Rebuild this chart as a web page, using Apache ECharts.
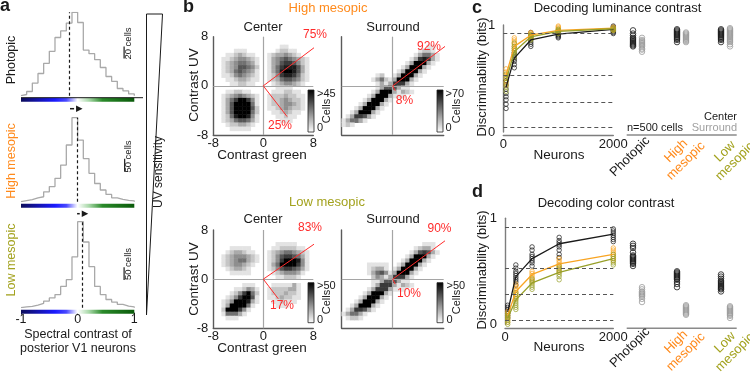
<!DOCTYPE html>
<html>
<head>
<meta charset="utf-8">
<title>Spectral contrast in V1</title>
<script src="https://cdn.jsdelivr.net/npm/echarts@6.0.0/dist/echarts.min.js"></script>
<style>
  html, body { margin: 0; padding: 0; background: #fff; }
  #chart { width: 750px; height: 373px; }
</style>
</head>
<body>
<div id="chart"></div>
<script>
// ---- a: spectral contrast histograms, 20 bins of 0.1 from -1 to 1 (cells)
const histPhotopic    = [2, 7, 21, 37, 54, 74, 97, 108, 121, 139, 122, 76, 70, 60, 47, 32, 24, 12, 8, 3];
const histHighMesopic = [4, 8, 15, 19, 38, 58, 90, 141, 218, 323, 237, 166, 109, 70, 45, 28, 15, 9, 5, 3];
const histLowMesopic  = [3, 5, 10, 17, 26, 38, 51, 83, 109, 198, 335, 256, 160, 83, 51, 32, 22, 13, 6, 3];
const histMedians = [-0.135, -0.01, 0.09];

// ---- b: 2D histograms, 24x24 bins over [-8, 8], grey level 0-9, top row first
const ctrHigh = [
  '', '',
  '000000000000000011',
  '000001110000000122110000',
  '000112321100012334321000',
  '001123443210013456543210',
  '001234554310013467764210',
  '001234665420013578886310',
  '001235654310013589986310',
  '001124543210012478875210',
  '000112332110012356654210',
  '000011221100001234432100',
  '000000000000000111100000',
  '000112211000001112211000',
  '001234543210012223221100',
  '001357997410012234322100',
  '001369999510012234432100',
  '001369999620011234322100',
  '001369999520001123211000',
  '001258998410000112110000',
  '001235665310000011100000',
  '000122332100',
  '000011111000',
  ''
];
const surHigh = [
  '', '',
  '0000000000000000000011',
  '0000000000000000001221',
  '00000000000000000135531',
  '00000000000000001378731',
  '0000000000000001399931',
  '000000000000001399931',
  '00000000000001399931',
  '0000000012001399931',
  '000000013521399931',
  '00000000131377731',
  '0000000013666311',
  '00000001399931321',
  '000000139993111',
  '000001399931',
  '00001399931',
  '0001399931',
  '001399931',
  '01377631',
  '135531',
  '121',
  '', ''
];
const ctrLow = [
  '', '', '',
  '000000000000000111110000',
  '000011111000001122221100',
  '000123321100012345543210',
  '001234443210012467765310',
  '001234553210012479998410',
  '001234432100013599997410',
  '000123321000012467765310',
  '000011111000001234443100',
  '000000000000000112221000',
  '',
  '000000011100001111131000',
  '000001124310012222331000',
  '000012479520012223221000',
  '000124799610011232211000',
  '001249998310001121110000',
  '001399995100000111000000',
  '002999741000',
  '001555310000',
  '000111000000',
  '', ''
];
const surLow = [
  '', '', '',
  '0000000000000000000111',
  '0000000000000000012331',
  '00000000000000001367631',
  '0000000000000001399931',
  '000000000000001399931',
  '00000011111001399931',
  '0000001233101399931',
  '000000135641399931',
  '00000002431377731',
  '0000000113666311',
  '00000001377731321',
  '000000137773111',
  '000001399931',
  '00001399931',
  '0001399931',
  '001399931',
  '01377631',
  '135531',
  '01221',
  '', ''
];
// end points of the red split lines (contrast units), upper then lower
const splitCtrHigh = [[10.2, 7.8], [3.8, -5.0]];
const splitSurHigh = [[10.1, 7.9], [0.4, -0.8]];
const splitCtrLow  = [[10.7, 7.5], [2.4, -3.2]];
const splitSurLow  = [[9.2, 7.0], [0.4, -0.8]];

// ---- c, d: decoding discriminability (bits)
const neurons = [50, 200, 500, 1000, 2000];
const dashLevels = [0.92, 0.53, 0.28, 0.04];
const conditions = ['Photopic', 'High mesopic', 'Low mesopic'];

const lumPhotopic = [0.42, 0.69, 0.86, 0.915, 0.96];
const lumHigh     = [0.53, 0.80, 0.905, 0.95, 0.97];
const lumLow      = [0.48, 0.75, 0.89, 0.94, 0.965];
const lumPhotopicPts = [
  [0.22, 0.26, 0.30, 0.33, 0.36, 0.40, 0.44, 0.48],
  [0.60, 0.63, 0.66, 0.68, 0.70, 0.72, 0.74],
  [0.80, 0.82, 0.84, 0.86, 0.88, 0.90, 0.93],
  [0.88, 0.89, 0.90, 0.91, 0.92, 0.93, 0.94],
  [0.92, 0.93, 0.94, 0.95, 0.96, 0.97, 0.98, 0.99]
];
const lumHighPts = [
  [0.44, 0.47, 0.50, 0.53, 0.56, 0.59],
  [0.76, 0.78, 0.80, 0.82, 0.84, 0.86, 0.88],
  [0.88, 0.89, 0.90, 0.91, 0.92, 0.93],
  [0.93, 0.94, 0.95, 0.96, 0.97, 0.98, 0.99],
  [0.95, 0.96, 0.97, 0.98]
];
const lumLowPts = [
  [0.38, 0.42, 0.46, 0.50, 0.54],
  [0.70, 0.72, 0.74, 0.76, 0.78, 0.80, 0.83],
  [0.86, 0.87, 0.88, 0.89, 0.90, 0.91],
  [0.92, 0.93, 0.94, 0.95, 0.96],
  [0.95, 0.96, 0.97]
];
const lumCenter = [
  [0.80, 0.81, 0.82, 0.83, 0.84, 0.85, 0.86, 0.87, 0.88, 0.90, 0.92, 0.95],
  [0.84, 0.86, 0.87, 0.88, 0.89, 0.90, 0.91, 0.92, 0.93, 0.94, 0.95, 0.96],
  [0.84, 0.86, 0.87, 0.88, 0.89, 0.90, 0.91, 0.92, 0.93, 0.94, 0.95, 0.96]
];
const lumSurround = [
  [0.75, 0.77, 0.78, 0.80, 0.81, 0.82, 0.83, 0.84, 0.85, 0.86, 0.88],
  [0.84, 0.85, 0.86, 0.87, 0.88, 0.89, 0.90, 0.91, 0.92, 0.93],
  [0.80, 0.82, 0.84, 0.85, 0.86, 0.87, 0.88, 0.89, 0.90, 0.91, 0.92, 0.93, 0.94, 0.95, 0.96, 0.97]
];

const colPhotopic = [0.12, 0.45, 0.62, 0.76, 0.85];
const colHigh     = [0.08, 0.31, 0.47, 0.57, 0.66];
const colLow      = [0.06, 0.23, 0.39, 0.49, 0.62];
const colPhotopicPts = [
  [0.06, 0.08, 0.10, 0.12, 0.14, 0.16, 0.18],
  [0.37, 0.40, 0.42, 0.44, 0.46, 0.48, 0.50, 0.53, 0.56],
  [0.55, 0.58, 0.60, 0.62, 0.64, 0.66, 0.70, 0.73],
  [0.63, 0.66, 0.70, 0.73, 0.75, 0.77, 0.79, 0.82],
  [0.78, 0.80, 0.82, 0.84, 0.86, 0.88, 0.90]
];
const colHighPts = [
  [0.02, 0.04, 0.06, 0.08, 0.10, 0.12],
  [0.24, 0.26, 0.28, 0.30, 0.32, 0.34, 0.36, 0.38],
  [0.40, 0.42, 0.44, 0.46, 0.48, 0.50],
  [0.50, 0.52, 0.54, 0.56, 0.58, 0.60, 0.62],
  [0.60, 0.62, 0.64, 0.66, 0.68, 0.70, 0.72]
];
const colLowPts = [
  [0.00, 0.02, 0.04, 0.06, 0.08, 0.10],
  [0.14, 0.16, 0.18, 0.20, 0.22, 0.24, 0.26, 0.28, 0.30],
  [0.33, 0.35, 0.37, 0.39, 0.41, 0.43],
  [0.42, 0.45, 0.47, 0.49, 0.51, 0.53, 0.55],
  [0.56, 0.58, 0.60, 0.62, 0.64, 0.66]
];
const colCenter = [
  [0.55, 0.57, 0.58, 0.59, 0.60, 0.61, 0.62, 0.63, 0.64, 0.65, 0.68, 0.72, 0.74, 0.76],
  [0.35, 0.38, 0.40, 0.42, 0.43, 0.44, 0.45, 0.46, 0.47, 0.48, 0.49, 0.50],
  [0.31, 0.33, 0.34, 0.35, 0.36, 0.37, 0.38, 0.39, 0.40, 0.41, 0.43, 0.45, 0.47]
];
const colSurround = [
  [0.21, 0.24, 0.26, 0.27, 0.28, 0.29, 0.30, 0.31, 0.33, 0.35],
  [0.09, 0.10, 0.11, 0.12, 0.13, 0.14, 0.15, 0.16, 0.17, 0.18],
  [0.06, 0.08, 0.09, 0.10, 0.11, 0.12, 0.13, 0.14, 0.15, 0.16, 0.17]
];

// ---- styling
const FONT = '"Liberation Sans", Arial, Helvetica, sans-serif';
const INK = '#1a1a1a';
const ORANGE_TXT = '#ff8a1c';
const OLIVE_TXT = '#a3a21e';
const ORANGE = '#f8a422';
const OLIVE = '#98a02a';
const GREY = '#9c9c9c';
const RED = '#ff2b2b';
const BINS = 24;

const chart = echarts.init(document.getElementById('chart'));

const grids = [
  { left: 21, top: 12.3, width: 113.3, height: 83.4 },     // a photopic
  { left: 21, top: 117.7, width: 113.3, height: 84 },      // a high mesopic
  { left: 21, top: 221.7, width: 113.3, height: 86 },      // a low mesopic
  { left: 213.3, top: 36.7, width: 100, height: 98.3 },    // b center high
  { left: 341.7, top: 36.7, width: 102, height: 98.3 },    // b surround high
  { left: 213.3, top: 230, width: 100, height: 98.3 },     // b center low
  { left: 341.7, top: 230, width: 102, height: 98.3 },     // b surround low
  { left: 503.3, top: 25, width: 110, height: 107 },       // c curves
  { left: 615.5, top: 25, width: 132, height: 107 },       // c summary
  { left: 505, top: 218.3, width: 108.3, height: 106 },    // d curves
  { left: 615.5, top: 218.3, width: 132, height: 106 }     // d summary
].map(g => Object.assign({ containLabel: false, outerBoundsMode: 'none' }, g));

const xAxes = [], yAxes = [], series = [];
const noLine = { show: false, onZero: false };
const greyLine = c => ({ show: true, onZero: false, lineStyle: { color: c, width: 1.4 } });
function lbl(show, margin, size) {
  return { show: show, margin: margin, fontSize: size || 13, color: INK, fontFamily: FONT,
    formatter: v => String(v) };
}
function valAxis(o) {
  return Object.assign({ type: 'value', splitLine: { show: false }, axisTick: { show: false },
    axisLine: noLine, axisLabel: { show: false } }, o);
}

// a axes + series
const hists = [histPhotopic, histHighMesopic, histLowMesopic];
const scaleBars = [{ x: 0.82, from: 62, cells: 20 }, { x: 0.83, from: 115, cells: 50 }, { x: 0.82, from: 108, cells: 50 }];
hists.forEach((h, k) => {
  xAxes.push(valAxis({ gridIndex: k, min: -1, max: 1, interval: 1, offset: 5,
    axisTick: { show: k === 2, length: 2, lineStyle: { color: INK } },
    axisLabel: lbl(k === 2, 0, 12.5) }));
  yAxes.push(valAxis({ gridIndex: k, min: 0, max: Math.max(...h) }));
  const pts = [[-1, 0]];
  h.forEach((c, b) => pts.push([-1 + b * 0.1, c]));
  pts.push([1, h[h.length - 1]], [1, 0]);
  series.push({ type: 'line', xAxisIndex: k, yAxisIndex: k, data: pts, step: 'end', symbol: 'none',
    lineStyle: { color: '#a9a9a9', width: 1.3 },
    markLine: { symbol: 'none', silent: true, label: { show: false },
      lineStyle: { color: INK, type: [3, 2.5], width: 1.2 }, data: [{ xAxis: histMedians[k] }] } });
  const sb = scaleBars[k];
  series.push({ type: 'line', xAxisIndex: k, yAxisIndex: k, symbol: 'none',
    data: [[sb.x, sb.from], [sb.x, sb.from + sb.cells]], lineStyle: { color: INK, width: 1.2 } });
});

// b axes + series
const binCats = Array.from({ length: BINS }, (_, i) => String(i));
const heats = [
  { rows: ctrHigh, split: splitCtrHigh }, { rows: surHigh, split: splitSurHigh },
  { rows: ctrLow, split: splitCtrLow }, { rows: surLow, split: splitSurLow }
];
const heatIdx = [];
heats.forEach((h, k) => {
  const g = 3 + k, labelled = k % 2 === 0;
  const cx = xAxes.push({ type: 'category', gridIndex: g, data: binCats, show: false, position: 'top' }) - 1;
  const vx = xAxes.push(valAxis({ gridIndex: g, min: -8, max: 8, interval: 8, position: 'bottom',
    axisLine: greyLine('#5a5a5a'), axisLabel: lbl(labelled, 2) })) - 1;
  const cy = yAxes.push({ type: 'category', gridIndex: g, data: binCats, show: false, position: 'right' }) - 1;
  const vy = yAxes.push(valAxis({ gridIndex: g, min: -8, max: 8, interval: 8, position: 'left',
    axisLine: greyLine('#5a5a5a'), axisLabel: lbl(labelled, 5) })) - 1;
  const cells = [];
  h.rows.forEach((row, r) => {
    for (let i = 0; i < row.length; i++) {
      const v = +row[i];
      if (v > 0) cells.push([i, BINS - 1 - r, v]);
    }
  });
  heatIdx.push(series.length);
  series.push({ type: 'heatmap', xAxisIndex: cx, yAxisIndex: cy, data: cells, itemStyle: { borderWidth: 0 } });
  series.push({ type: 'line', xAxisIndex: vx, yAxisIndex: vy, data: [[0, 0]], showSymbol: false, z: 3,
    lineStyle: { opacity: 0 },
    markLine: { symbol: 'none', silent: true, label: { show: false },
      lineStyle: { color: '#a5a5a5', width: 1.2, type: 'solid' }, data: [{ xAxis: 0 }, { yAxis: 0 }] } });
  series.push({ type: 'line', xAxisIndex: vx, yAxisIndex: vy, data: [h.split[0], [0, 0], h.split[1]],
    symbol: 'none', clip: false, z: 5, lineStyle: { color: RED, width: 1 } });
});

// c, d axes + series
function curvePanel(g, offset, means, clouds) {
  const ax = {
    x: xAxes.push(valAxis({ gridIndex: g, min: 0, max: 2000, interval: 2000, offset: offset,
      axisLine: greyLine('#7d7d7d'), axisLabel: lbl(true, 3) })) - 1,
    y: yAxes.push(valAxis({ gridIndex: g, min: 0, max: 1, interval: 1,
      axisLine: greyLine('#7d7d7d'), axisLabel: lbl(true, 8) })) - 1
  };
  const colors = [INK, ORANGE, OLIVE];
  series.push({ type: 'line', xAxisIndex: ax.x, yAxisIndex: ax.y, data: [[0, 0]], showSymbol: false,
    lineStyle: { opacity: 0 },
    markLine: { symbol: 'none', silent: true, label: { show: false },
      lineStyle: { color: '#555', type: [4, 3], width: 1.1 }, data: dashLevels.map(v => ({ yAxis: v })) } });
  clouds.forEach((cl, s) => series.push({ type: 'scatter', xAxisIndex: ax.x, yAxisIndex: ax.y, symbolSize: 4.5, z: 3,
    data: cl.flatMap((vals, i) => vals.map(v => [neurons[i], v])),
    itemStyle: { color: 'rgba(255,255,255,0)', borderColor: colors[s], borderWidth: 0.9 } }));
  means.forEach((m, s) => series.push({ type: 'line', xAxisIndex: ax.x, yAxisIndex: ax.y, symbol: 'none', z: 4,
    data: m.map((v, i) => [neurons[i], v]), lineStyle: { color: colors[s], width: 1.3 } }));
}
function summaryPanel(g, center, surround) {
  const ax = {
    x: xAxes.push({ type: 'category', gridIndex: g, data: conditions, show: false }) - 1,
    y: yAxes.push(valAxis({ gridIndex: g, min: 0, max: 1, show: false })) - 1
  };
  [[center, INK, -4.5], [surround, GREY, 4.5]].forEach(([vals, col, dx]) => series.push({
    type: 'scatter', xAxisIndex: ax.x, yAxisIndex: ax.y, symbolSize: 5.5, symbolOffset: [dx, 0],
    data: vals.flatMap((list, k) => list.map(v => [k, v])),
    itemStyle: { color: 'rgba(255,255,255,0)', borderColor: col, borderWidth: 1 } }));
}
curvePanel(7, 3, [lumPhotopic, lumHigh, lumLow], [lumPhotopicPts, lumHighPts, lumLowPts]);
summaryPanel(8, lumCenter, lumSurround);
curvePanel(9, 4, [colPhotopic, colHigh, colLow], [colPhotopicPts, colHighPts, colLowPts]);
summaryPanel(10, colCenter, colSurround);

chart.setOption({
  animation: false,
  textStyle: { fontFamily: FONT },
  grid: grids,
  xAxis: xAxes,
  yAxis: yAxes,
  visualMap: { type: 'continuous', show: false, min: 0, max: 9, seriesIndex: heatIdx,
    inRange: { color: ['#ffffff', '#000000'] } },
  series: series
});

// ---- annotations
const G = [];
function text(x, y, str, o) {
  o = o || {};
  const align = o.align || 'center';
  G.push({ type: 'text', x: x, y: y, rotation: (o.rot || 0) * Math.PI / 180, z: 100, silent: true,
    style: { text: str, fill: o.color || INK,
      font: (o.weight || 'normal') + ' ' + (o.size || 13) + 'px ' + FONT,
      textAlign: align, align: align, textVerticalAlign: 'middle', verticalAlign: 'middle',
      lineHeight: o.lh } });
}
function line(x1, y1, x2, y2, stroke, w) {
  G.push({ type: 'line', z: 60, silent: true, shape: { x1: x1, y1: y1, x2: x2, y2: y2 },
    style: { stroke: stroke, lineWidth: w } });
}

// a: colour bars, median shift arrows, UV wedge
const spectrum = [
  { offset: 0, color: '#0c0c5a' }, { offset: 0.3, color: '#1a1aff' }, { offset: 0.4, color: '#4848ff' },
  { offset: 0.5, color: '#ffffff' }, { offset: 0.6, color: '#a8d8a8' }, { offset: 0.72, color: '#2a8a2a' },
  { offset: 1, color: '#0a5a0a' }
];
const bases = grids.slice(0, 3).map(g => g.top + g.height);
bases.forEach(b => G.push({ type: 'rect', z: 50, silent: true,
  shape: { x: grids[0].left, y: b + 2, width: grids[0].width, height: 4 },
  style: { fill: new echarts.graphic.LinearGradient(0, 0, 1, 0, spectrum) } }));
line(grids[0].left, bases[0] + 2, 143, bases[0] + 2, INK, 1);
const mx = histMedians.map((m, k) => chart.convertToPixel({ gridIndex: k }, [m, 0])[0]);
[0, 1].forEach(k => {
  const y = (bases[k] + 6 + grids[k + 1].top) / 2 - 1;
  line(mx[k], y, mx[k + 1] - 3, y, INK, 1.5);
  G.push({ type: 'polygon', z: 60, silent: true,
    shape: { points: [[mx[k + 1] - 1, y - 3.3], [mx[k + 1] - 1, y + 3.3], [mx[k + 1] + 5.5, y]] },
    style: { fill: INK } });
});
G.push({ type: 'polygon', z: 60, silent: true,
  shape: { points: [[146.5, 14], [162.5, 14], [146.5, 315]] },
  style: { fill: 'none', stroke: INK, lineWidth: 1 } });

text(0, 6, 'a', { weight: 'bold', size: 18, align: 'left' });
text(12, 60, 'Photopic', { rot: 90, size: 12.5 });
text(12, 161, 'High mesopic', { rot: 90, size: 12.5, color: ORANGE_TXT });
text(12, 260, 'Low mesopic', { rot: 90, size: 12.5, color: OLIVE_TXT });
text(128.5, 43.5, '20 cells', { rot: 90, size: 9.5 });
text(128.5, 156.5, '50 cells', { rot: 90, size: 9.5 });
text(128.5, 264, '50 cells', { rot: 90, size: 9.5 });
text(78, 335, 'Spectral contrast of', { size: 12.5 });
text(78, 348.5, 'posterior V1 neurons', { size: 12.5 });
text(158.5, 172, 'UV sensitivity', { rot: 90, size: 12 });

// b
[[308, 90, 42], [437, 90, 42], [308, 282.7, 40], [437, 282.7, 40]].forEach(([x, y, h]) => G.push({
  type: 'rect', z: 50, silent: true, shape: { x: x, y: y, width: 6, height: h },
  style: { fill: new echarts.graphic.LinearGradient(0, 0, 0, 1, [{ offset: 0, color: '#000' }, { offset: 1, color: '#fff' }]),
    stroke: '#222', lineWidth: 0.8 } }));
text(183, 7, 'b', { weight: 'bold', size: 18, align: 'left' });
text(328, 8.5, 'High mesopic', { color: ORANGE_TXT });
text(327, 202.3, 'Low mesopic', { color: OLIVE_TXT });
[27, 219.3].forEach(y => { text(263, y, 'Center'); text(393, y, 'Surround'); });
text(194, 85, 'Contrast UV', { rot: 90, size: 13.5 });
text(194, 279, 'Contrast UV', { rot: 90, size: 13.5 });
text(262, 155, 'Contrast green', { size: 13.5 });
text(262, 348, 'Contrast green', { size: 13.5 });
[[317, 94, 127.5, '>45', 327, 111], [445.5, 94, 127.5, '>70', 456.5, 111],
 [317, 286, 320, '>50', 327, 302], [446.5, 286, 320, '>50', 457, 302]].forEach(([x, yt, yb, t, cx, cy]) => {
  text(x, yt, t, { size: 11, align: 'left' });
  text(x, yb, '0', { size: 11, align: 'left' });
  text(cx, cy, 'Cells', { size: 11, rot: 90 });
});
[[315, 35, '75%'], [280, 126, '25%'], [429, 46.5, '92%'], [404.5, 100.3, '8%'],
 [310, 227.7, '83%'], [282, 305.7, '17%'], [439.5, 228.3, '90%'], [409, 293.3, '10%']]
  .forEach(([x, y, t]) => text(x, y, t, { color: RED, size: 12 }));

// c, d
text(472, 8, 'c', { weight: 'bold', size: 18, align: 'left' });
text(472, 192, 'd', { weight: 'bold', size: 18, align: 'left' });
text(617.5, 8.5, 'Decoding luminance contrast');
text(606, 203, 'Decoding color contrast');
text(482, 77, 'Discriminability (bits)', { rot: 90 });
text(482.5, 270, 'Discriminability (bits)', { rot: 90 });
text(559, 155, 'Neurons', { size: 13.5 });
text(559, 347, 'Neurons', { size: 13.5 });
text(627, 128, 'n=500 cells', { size: 11, align: 'left' });
text(737, 117, 'Center', { size: 11, align: 'right' });
text(737, 128, 'Surround', { size: 11, align: 'right', color: '#a0a0a0' });
line(626.7, 135, 736.7, 135, '#8a8a8a', 1.5);
line(626.7, 328.3, 736.7, 328.3, '#8a8a8a', 1.5);
[156.5, 347.5].forEach(y => {
  text(630, y, 'Photopic', { rot: 45 });
  text(681, y - 0.5, 'High\nmesopic', { rot: 45, color: ORANGE_TXT, lh: 14 });
  text(730, y, 'Low\nmesopic', { rot: 45, color: OLIVE_TXT, lh: 14 });
});

chart.setOption({ graphic: G });
</script>
</body>
</html>
